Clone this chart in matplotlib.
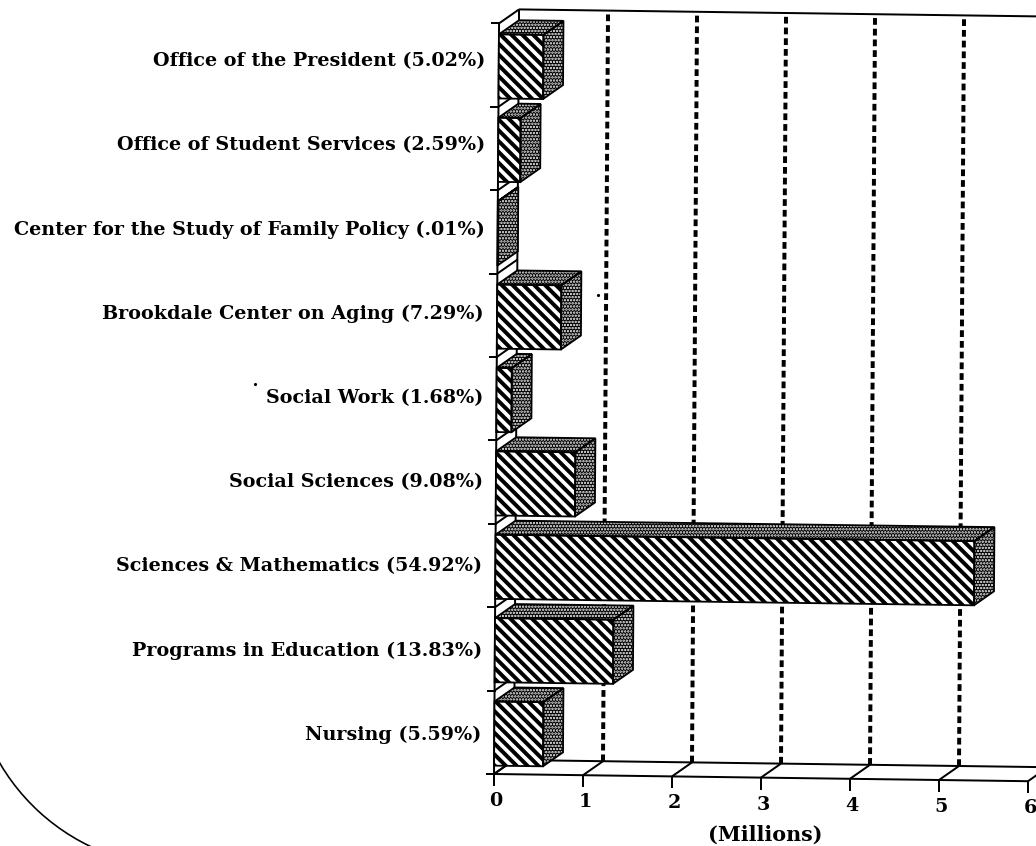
#!/usr/bin/env python3
# 3D style horizontal bar chart, grants by unit (scanned look)
import matplotlib
matplotlib.use("Agg")
import matplotlib.pyplot as plt
import matplotlib.patches as mpatches

plt.rcParams['font.family'] = ['DejaVu Serif']
plt.rcParams['font.weight'] = 'bold'

# bottom to top, as the slots are counted from the axis
units = ["Nursing (5.59%)", "Programs in Education (13.83%)",
         "Sciences & Mathematics (54.92%)", "Social Sciences (9.08%)",
         "Social Work (1.68%)", "Brookdale Center on Aging (7.29%)",
         "Center for the Study of Family Policy (.01%)",
         "Office of Student Services (2.59%)",
         "Office of the President (5.02%)"]
millions = [0.55, 1.33, 5.38, 0.89, 0.17, 0.72, 0.005, 0.25, 0.50]
ticks = [0, 1, 2, 3, 4, 5, 6]
grid_ticks = [1, 2, 3, 4, 5]

DPI = 130
fig = plt.figure(figsize=(1036 / DPI, 846 / DPI), dpi=DPI)
ax = fig.add_axes([0, 0, 1, 1])
ax.set_xlim(0, 1036)
ax.set_ylim(846, 0)
ax.axis('off')


def pt(v, s, d=0):
    # value, slot, depth -> pixels. page is a bit crooked so the axes are skewed
    return (494 + 89 * v + 0.56 * s + 20 * d,
            774 + 1.2 * v - 83.4 * s - 14 * d)


def line(p, q, lw=1.1, **kw):
    ax.plot([p[0], q[0]], [p[1], q[1]], color='k', lw=lw,
            solid_capstyle='butt', **kw)


# walls and floor
line(pt(0, 9, 1), pt(6, 9, 1), zorder=1)
line(pt(0, 0, 1), pt(6, 0, 1), zorder=1)
line(pt(0, 0), pt(6, 0), zorder=1)
line(pt(0, 0), pt(0, 9), zorder=1)
line(pt(0, 0, 1), pt(0, 9, 1), zorder=1)

for k in grid_ticks:
    p, q = pt(k, 0, 1), pt(k, 9, 1)
    ax.plot([p[0], q[0]], [p[1], q[1]], color='k', lw=2.2,
            linestyle=(0, (1.7, 1.0)), zorder=2)

for s in range(10):
    line(pt(0, s), pt(0, s, 1), zorder=1)
    a = pt(0, s)
    line((a[0] - 8, a[1]), (a[0] + 1, a[1]), zorder=1)

for k in ticks:
    line(pt(k, 0), pt(k, 0, 1), zorder=1)
    a = pt(k, 0)
    line(a, (a[0], a[1] + 12), zorder=1)
    ax.text(a[0] + 2, a[1] + 27, str(k), ha='center', va='center', fontsize=10.6)

# bars
for i, (name, v) in enumerate(zip(units, millions)):
    s0, s1 = i + 0.1, i + 0.87
    plt.rcParams['hatch.linewidth'] = 2.2
    front = mpatches.Polygon([pt(0, s0), pt(v, s0), pt(v, s1), pt(0, s1)],
                             facecolor='white', edgecolor='k', hatch='\\' * 4,
                             lw=0, zorder=4)
    plt.rcParams['hatch.linewidth'] = 0.9
    top = mpatches.Polygon([pt(0, s1), pt(v, s1), pt(v, s1, 1), pt(0, s1, 1)],
                           facecolor='k', edgecolor='white', hatch='.' * 7,
                           lw=0, zorder=4)
    side = mpatches.Polygon([pt(v, s0), pt(v, s1), pt(v, s1, 1), pt(v, s0, 1)],
                            facecolor='k', edgecolor='white', hatch='.' * 7,
                            lw=0, zorder=4)
    for patch in (front, top, side):
        ax.add_patch(patch)
        outline = mpatches.Polygon(patch.get_xy(), fill=False, edgecolor='k',
                                   lw=1.0, zorder=5)
        ax.add_patch(outline)
    lx, ly = pt(0, i + 0.5)
    # labels sit on a slightly wider spacing than the slots
    ax.text(lx - 13, ly + (3 - i) * 0.75, name, ha='right', va='center',
            fontsize=10.6)

ax.text(765, 835, "(Millions)", ha='center', va='center', fontsize=11.4)

# curved edge of the page and a couple of specks
ax.add_patch(mpatches.Arc((181, 657), 420, 420, theta1=110, theta2=155,
                          color='k', lw=0.9))
ax.plot([255, 598], [384, 295], 'k.', ms=1.5)

fig.savefig('out.png', dpi=DPI)
